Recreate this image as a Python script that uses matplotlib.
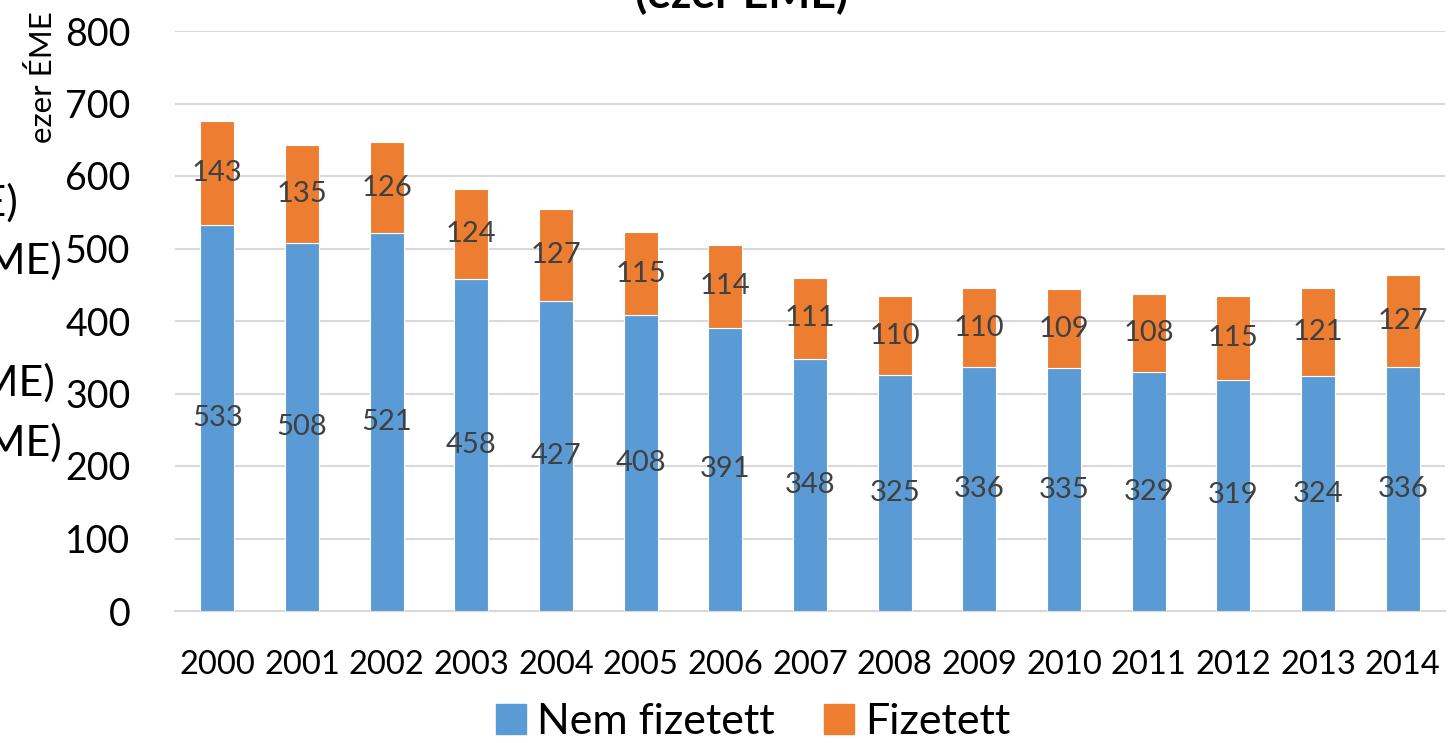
import numpy as np
import matplotlib
matplotlib.use("Agg")
import matplotlib.pyplot as plt
from matplotlib.patches import Patch

plt.rcParams["font.family"] = ["Lato", "DejaVu Sans"]

# ── Data ──────────────────────────────────────────────────────────────────────
years      = ["2000", "2001", "2002", "2003", "2004", "2005", "2006", "2007",
              "2008", "2009", "2010", "2011", "2012", "2013", "2014"]
nem_fizet  = [533, 508, 521, 458, 427, 408, 391, 348, 325, 336, 335, 329, 319, 324, 336]
fizetett   = [143, 135, 126, 124, 127, 115, 114, 111, 110, 110, 109, 108, 115, 121, 127]
series_names = ["Nem fizetett", "Fizetett"]

BLUE   = "#5B9BD5"
ORANGE = "#ED7D31"
LABEL  = "#404040"

W, H = 1454, 743
fig = plt.figure(figsize=(W / 100, H / 100), dpi=100)
ax = fig.add_axes([175 / W, 1 - 611 / H, (1445 - 175) / W, (611 - 31) / H])

x = np.arange(len(years))
b1 = ax.bar(x, nem_fizet, width=0.4, color=BLUE, edgecolor="white", linewidth=0.8, zorder=3)
b2 = ax.bar(x, fizetett, width=0.4, bottom=nem_fizet, color=ORANGE,
            edgecolor="white", linewidth=0.8, zorder=3)

for rect, v in zip(b1, nem_fizet):
    ax.text(rect.get_x() + rect.get_width() / 2, v / 2, str(v),
            ha="center", va="center", fontsize=21, color=LABEL, zorder=4)
for rect, base, v in zip(b2, nem_fizet, fizetett):
    ax.text(rect.get_x() + rect.get_width() / 2, base + v / 2, str(v),
            ha="center", va="center", fontsize=21, color=LABEL, zorder=4)

ax.set_xlim(-0.5, len(years) - 0.5)
ax.set_ylim(0, 800)
ax.set_yticks(range(0, 801, 100))
ax.set_xticks(x)
ax.set_xticklabels(years)
ax.tick_params(axis="y", length=0, pad=32, labelsize=27)
ax.tick_params(axis="x", length=0, pad=28, labelsize=23.5)
ax.grid(axis="y", color="#D9D9D9", linewidth=1.5, zorder=0)
for s in ax.spines.values():
    s.set_visible(False)
ax.spines["bottom"].set_visible(True)
ax.spines["bottom"].set_color("#D9D9D9")
ax.spines["bottom"].set_linewidth(1.5)

ax.set_ylabel("ezer ÉME", fontsize=22.5)
ax.yaxis.set_label_coords(-118 / (1445 - 175), 0.92)

# cut-off title at the top
fig.text(0.51, 1 - 14 / H, "(ezer ÉME)", ha="center", va="bottom",
         fontsize=32, fontweight="bold")

# cut-off fragments on the left edge
for xr, yc in [(18, 200), (62, 258), (55, 380), (62, 440)]:
    fig.text(xr / W, 1 - yc / H, "ÉME)", ha="right", va="center", fontsize=31)

handles = [Patch(color=BLUE), Patch(color=ORANGE)]
fig.legend(handles, series_names, loc="center", bbox_to_anchor=(0.518, 1 - 722 / H),
           ncol=2, frameon=False, fontsize=31, handlelength=0.7, handleheight=0.7,
           columnspacing=1.15, handletextpad=0.25)

fig.savefig("out.png", dpi=100)
